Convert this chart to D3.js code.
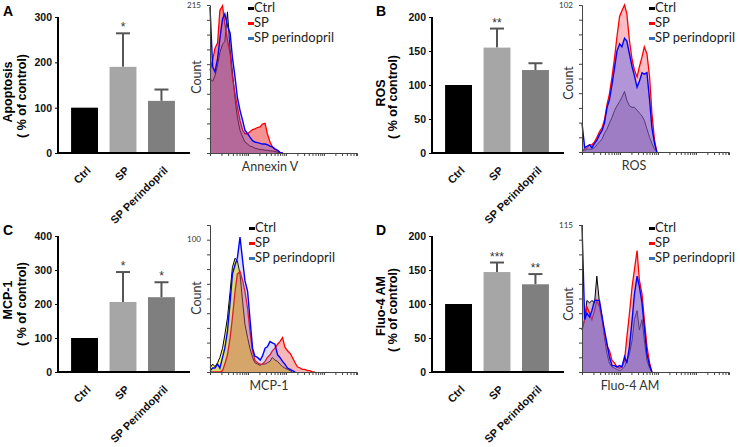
<!DOCTYPE html>
<html><head><meta charset="utf-8">
<script src="https://cdn.jsdelivr.net/npm/d3@7"></script>
<style>
body{margin:0;background:#fff}
svg{display:block}
</style></head><body>
<svg id="chart" width="740" height="447"></svg>
<script>
// ---------- bar chart data ----------
const categories = ["Ctrl", "SP", "SP Perindopril"];
const apoptosisMean = [100, 190, 115];
const apoptosisSem = [0, 74, 25];
const apoptosisStars = ["", "*", ""];
const apoptosisTicks = [0, 100, 200, 300];

const rosMean = [100, 155, 122];
const rosSem = [0, 28, 10];
const rosStars = ["", "**", ""];
const rosTicks = [0, 50, 100, 150, 200];

const mcpMean = [100, 206, 220];
const mcpSem = [0, 88, 44];
const mcpStars = ["", "*", "*"];
const mcpTicks = [0, 100, 200, 300, 400];

const fluoMean = [100, 147, 129];
const fluoSem = [0, 14, 15];
const fluoStars = ["", "***", "**"];
const fluoTicks = [0, 50, 100, 150, 200];

// ---------- histogram data (bins in log10 fluorescence, counts) ----------
const histLegend = ["Ctrl", "SP", "SP perindopril"];
const binLog = [0.00,0.07,0.13,0.20,0.26,0.33,0.39,0.46,0.53,0.59,0.66,0.72,0.79,0.86,0.92,0.99,1.05,1.12,1.18,1.25,1.32,1.38,1.45,1.51,1.58,1.64,1.71,1.78,1.84,1.91,1.97,2.04,2.11,2.17,2.24,2.30,2.37,2.43,2.50,2.57,2.63,2.70,2.76];

const annexinCtrl = [108,104,112,128,146,158,162,205,150,118,78,52,33,23,16,13,10,9,7,6,5,5,4,4,3,3,2,1,1,0];
const annexinSP   = [120,135,152,160,207,214,188,164,144,110,86,67,47,33,28,28,31,34,35,37,38,42,43,28,16,9,5,3,1,0];
const annexinPer  = [212,125,118,137,166,195,202,185,174,139,110,81,62,47,33,28,23,18,16,15,14,13,13,12,10,9,6,4,1,0];

const rosCtrl = [1,1,2,2,2,3,5,7,9,13,16,20,24,29,32,35,38,42,36,32,31,31,29,27,25,22,16,10,6,2,0];
const rosSP   = [1,2,3,5,5,7,10,14,17,22,33,40,52,66,80,94,98,102,96,77,64,57,52,59,66,73,68,52,27,8,0];
const rosPer  = [20,3,4,5,3,6,8,12,15,20,31,36,47,59,70,75,73,79,77,68,59,53,45,49,55,54,55,36,17,6,0];

const mcpCtrl = [3,6,4,7,11,18,28,41,61,79,86,84,74,53,36,26,18,11,7,6,5,6,6,7,8,11,9,8,6,4,3,2,1,0];
const mcpSP   = [0,0,0,0,0,1,6,13,26,41,61,74,76,69,61,48,31,16,9,7,6,6,8,11,13,16,18,21,23,26,19,16,14,11,7,4,3,2,2,1,1,0,0];
const mcpPer  = [1,3,3,6,3,11,18,31,53,74,81,86,102,84,69,61,41,18,12,11,9,12,18,19,23,22,21,13,11,8,6,3,2,1,0];

const fluoCtrl = [33,41,56,54,56,54,75,54,43,27,14,7,4,3,2,1,2,4,9,14,25,41,48,33,41,25,9,3,0];
const fluoSP   = [33,41,51,46,41,48,56,51,41,30,20,17,9,7,4,3,4,9,27,46,67,80,95,72,61,41,20,7,0];
const fluoPer  = [115,41,46,43,48,56,56,56,43,33,22,12,5,5,4,5,4,12,7,20,41,61,75,67,54,35,14,5,0];

// ---------- drawing ----------
const svg = d3.select("#chart");
const barColors = ["#000000", "#a6a6a6", "#7f7f7f"];
const BOLD = "'Liberation Sans', Arial, sans-serif";
const LIGHT = "Lato, 'Open Sans', sans-serif";

function barPanel(o) {
  const g = svg.append("g");
  const x = d3.scaleBand().domain(categories).range([o.x0, o.x0 + 130]).paddingInner(0.3).paddingOuter(0.34);
  const y = d3.scaleLinear().domain([0, o.ticks[o.ticks.length - 1]]).range([o.yBase, o.yTop]);
  const rows = categories.map((c, i) => ({c, m: o.mean[i], s: o.sem[i], star: o.stars[i], i}));

  const eb = g.selectAll(".eb").data(rows.filter(r => r.s > 0)).join("g");
  eb.append("line").attr("x1", r => x(r.c) + x.bandwidth() / 2).attr("x2", r => x(r.c) + x.bandwidth() / 2)
    .attr("y1", r => y(r.m)).attr("y2", r => y(r.m + r.s)).attr("stroke", "#555").attr("stroke-width", 2);
  eb.append("line").attr("x1", r => x(r.c) + x.bandwidth() / 2 - 7).attr("x2", r => x(r.c) + x.bandwidth() / 2 + 7)
    .attr("y1", r => y(r.m + r.s)).attr("y2", r => y(r.m + r.s)).attr("stroke", "#555").attr("stroke-width", 2);

  g.selectAll(".bar").data(rows).join("rect")
    .attr("x", r => x(r.c)).attr("width", x.bandwidth())
    .attr("y", r => y(r.m)).attr("height", r => y(0) - y(r.m))
    .attr("fill", r => barColors[r.i]);

  g.selectAll(".star").data(rows.filter(r => r.star)).join("text")
    .attr("x", r => x(r.c) + x.bandwidth() / 2).attr("y", r => y(r.m + r.s) - 2)
    .attr("text-anchor", "middle").attr("font-family", BOLD).attr("font-size", 12).attr("fill", "#333")
    .text(r => r.star);

  const ya = g.append("g").attr("transform", `translate(${o.x0},0)`)
    .call(d3.axisLeft(y).tickValues(o.ticks).tickSize(3).tickPadding(3));
  ya.select(".domain").attr("stroke-width", 2).attr("d", `M0,${o.yBase}V${o.yTop}`);
  ya.selectAll("text").attr("font-family", BOLD).attr("font-weight", "bold").attr("font-size", 10.5).attr("fill", "#111");

  g.append("line").attr("x1", o.x0 - 1).attr("x2", o.x0 + 132).attr("y1", o.yBase).attr("y2", o.yBase)
    .attr("stroke", "#000").attr("stroke-width", 2);

  g.selectAll(".cat").data(rows).join("text")
    .attr("transform", r => `translate(${x(r.c) + x.bandwidth() / 2 + 7},${o.yBase + 18}) rotate(-45)`)
    .attr("text-anchor", "end").attr("font-family", BOLD).attr("font-weight", "bold").attr("font-size", 11)
    .attr("fill", "#111").text(r => r.c);

  g.append("text").attr("transform", `translate(${o.lx1},${o.lyc}) rotate(-90)`)
    .attr("text-anchor", "middle").attr("font-family", BOLD).attr("font-weight", "bold").attr("font-size", 12.5)
    .text(o.label);
  g.append("text").attr("transform", `translate(${o.lx2},${o.lyc + 4}) rotate(-90)`)
    .attr("text-anchor", "middle").attr("font-family", BOLD).attr("font-weight", "bold").attr("font-size", 12.5)
    .text("( % of control)");
  g.append("text").attr("x", o.letterX).attr("y", o.letterY).attr("font-family", BOLD).attr("font-weight", "bold")
    .attr("font-size", 14).text(o.letter);
}

function histPanel(o) {
  const g = svg.append("g");
  const x = d3.scaleLog().domain([1, Math.pow(10, 3.87)]).range([o.x0, o.x0 + 147]);
  const y = d3.scaleLinear().domain([0, o.yMax]).range([o.yBase, o.yTop]);
  const series = [
    {v: o.ctrl, fill: o.fills[0], stroke: "#000", w: 1},
    {v: o.sp, fill: o.fills[1], stroke: "#ff0000", w: 1.3},
    {v: o.per, fill: o.fills[2], stroke: "#0000ff", w: 1.4}
  ];
  const area = d3.area().x((d, i) => x(Math.pow(10, binLog[i]))).y0(o.yBase).y1(d => y(Math.min(d, o.yMax)));
  const line = d3.line().x((d, i) => x(Math.pow(10, binLog[i]))).y(d => y(Math.min(d, o.yMax)));
  series.forEach(s => {
    g.append("path").attr("d", area(s.v)).attr("fill", s.fill);
    g.append("path").attr("d", line(s.v)).attr("fill", "none").attr("stroke", s.stroke).attr("stroke-width", s.w);
  });

  const yTicks = d3.range(0, 11).map(k => k * o.yMax / 10);
  const ya = g.append("g").attr("transform", `translate(${o.x0},0)`)
    .call(d3.axisLeft(y).tickValues(yTicks).tickSize(3).tickFormat(""));
  ya.selectAll("line,path").attr("stroke", "#444");
  g.append("text").attr("x", o.x0 - 9).attr("y", y(o.topLabel)).attr("dy", "0.35em").attr("text-anchor", "end")
    .attr("font-family", LIGHT).attr("font-size", 8).attr("fill", "#333").text(o.topLabel);

  const xa = g.append("g").attr("transform", `translate(0,${o.yBase})`)
    .call(d3.axisBottom(x).tickSize(3).tickFormat(""));
  xa.selectAll("line,path").attr("stroke", "#444");

  g.append("text").attr("transform", `translate(${o.x0 - 9},${o.countY}) rotate(-90)`)
    .attr("text-anchor", "middle").attr("font-family", LIGHT).attr("font-size", 12.5).attr("fill", "#333").text("Count");
  g.append("text").attr("x", o.titleX).attr("y", o.yBase + 18).attr("text-anchor", "middle")
    .attr("font-family", LIGHT).attr("font-size", 12.5).attr("fill", "#333").text(o.title);

  const legColors = ["#000000", "#ff0000", "#2f72b8"];
  const lg = g.selectAll(".leg").data(histLegend).join("g")
    .attr("transform", (d, i) => `translate(${o.legX},${o.legY + i * 15})`);
  lg.append("rect").attr("x", 0).attr("y", -5).attr("width", 6).attr("height", 3).attr("fill", (d, i) => legColors[i]);
  lg.append("text").attr("x", 6).attr("y", 0).attr("font-family", LIGHT).attr("font-size", 13).attr("fill", "#222").text(d => d);
}

barPanel({x0: 58, yTop: 17, yBase: 153, ticks: apoptosisTicks, mean: apoptosisMean, sem: apoptosisSem, stars: apoptosisStars,
  label: "Apoptosis", lx1: 12, lx2: 26, lyc: 92, letter: "A", letterX: 3, letterY: 16});
barPanel({x0: 432, yTop: 17, yBase: 153, ticks: rosTicks, mean: rosMean, sem: rosSem, stars: rosStars,
  label: "ROS", lx1: 385, lx2: 397, lyc: 93, letter: "B", letterX: 376, letterY: 16});
barPanel({x0: 58, yTop: 236, yBase: 372, ticks: mcpTicks, mean: mcpMean, sem: mcpSem, stars: mcpStars,
  label: "MCP-1", lx1: 12, lx2: 26, lyc: 300, letter: "C", letterX: 3, letterY: 235});
barPanel({x0: 432, yTop: 236, yBase: 372, ticks: fluoTicks, mean: fluoMean, sem: fluoSem, stars: fluoStars,
  label: "Fluo-4 AM", lx1: 385, lx2: 397, lyc: 306, letter: "D", letterX: 376, letterY: 235});

histPanel({x0: 210, yTop: 5, yBase: 153, yMax: 215, topLabel: 215, ctrl: annexinCtrl, sp: annexinSP, per: annexinPer,
  fills: ["rgb(215,200,215)", "rgba(235,40,40,0.5)", "rgba(70,70,230,0.28)"],
  title: "Annexin V", titleX: 270, countY: 77, legX: 248, legY: 12});
histPanel({x0: 582, yTop: 5, yBase: 152, yMax: 102, topLabel: 102, ctrl: rosCtrl, sp: rosSP, per: rosPer,
  fills: ["rgb(205,190,205)", "rgba(235,70,85,0.35)", "rgba(90,100,240,0.45)"],
  title: "ROS", titleX: 634, countY: 83, legX: 649, legY: 12});
histPanel({x0: 210, yTop: 225, yBase: 372, yMax: 111.1, topLabel: 100, ctrl: mcpCtrl, sp: mcpSP, per: mcpPer,
  fills: ["rgb(255,255,80)", "rgba(235,50,50,0.35)", "rgba(110,110,220,0.25)"],
  title: "MCP-1", titleX: 269, countY: 298, legX: 249, legY: 232});
histPanel({x0: 582, yTop: 225, yBase: 372, yMax: 115, topLabel: 115, ctrl: fluoCtrl, sp: fluoSP, per: fluoPer,
  fills: ["rgb(205,190,205)", "rgba(235,70,85,0.35)", "rgba(90,100,240,0.45)"],
  title: "Fluo-4 AM", titleX: 630, countY: 304, legX: 649, legY: 232});
</script>
</body></html>
